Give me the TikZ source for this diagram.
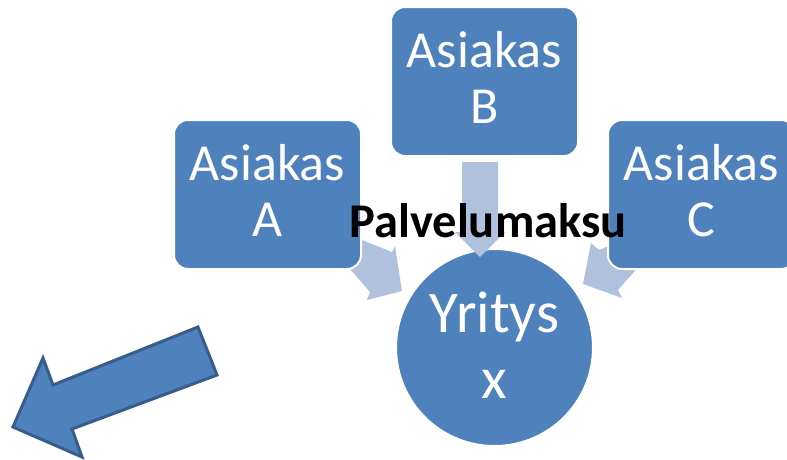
\documentclass[tikz,border=0pt]{standalone}
\usepackage{fontspec}
\setmainfont{Carlito}
\definecolor{boxblue}{HTML}{4F81BD}
\definecolor{darkblue}{HTML}{385D8A}
\definecolor{lightblue}{HTML}{AFC1DD}
\tikzset{
  boxnode/.style={draw=white, line width=2pt, fill=boxblue, rounded corners=14pt,
    minimum width=187pt, minimum height=149pt, inner sep=0pt, text=white,
    align=center, text depth=8pt, font=\fontsize{52}{56}\selectfont},
  circnode/.style={circle, draw=white, line width=2pt, fill=boxblue,
    minimum size=197pt, inner sep=0pt, text=white, align=center, text depth=4pt,
    font=\fontsize{59}{66}\selectfont},
  lightarrow/.style={fill=lightblue, draw=none},
  bigarrow/.style={fill=boxblue, draw=darkblue, line width=3pt, line join=miter},
  labeltext/.style={font=\bfseries\fontsize{48.5}{52}\selectfont, text=black, inner sep=0pt}
}
\begin{document}
\begin{tikzpicture}[x=1pt,y=-1pt]
\useasboundingbox (0,0) rectangle (787,459);
% central circle
\node[circnode] (Y) at (494.5,347.5) {Yritys\\x};
% light block arrows
\draw[lightarrow] (462,162) -- (498,162) -- (498,232) -- (505,232) -- (480,257) -- (455,232) -- (462,232) -- cycle;
\draw[lightarrow] (347,234) -- (367,242) -- (392,252) -- (395,246) -- (402,291) -- (367,300) -- (370,292) -- (343,261) -- cycle;
\draw[lightarrow] (624,240) -- (599,250) -- (591,243) -- (583,284) -- (622,298) -- (618,290) -- (640,265) -- cycle;
% boxes
\node[boxnode] (A) at (267.5,194.5) {Asiakas\\A};
\node[boxnode] (B) at (484.5,81.5) {Asiakas\\B};
\node[boxnode] (C) at (701.5,194.5) {Asiakas\\C};
% label
\node[labeltext, anchor=base] (P) at (488,237) {Palvelumaksu};
% big arrow
\draw[bigarrow] (198,327) -- (217,375) -- (72,429) -- (82,457) -- (13,427) -- (43,358) -- (53,385) -- cycle;
\end{tikzpicture}
\end{document}
